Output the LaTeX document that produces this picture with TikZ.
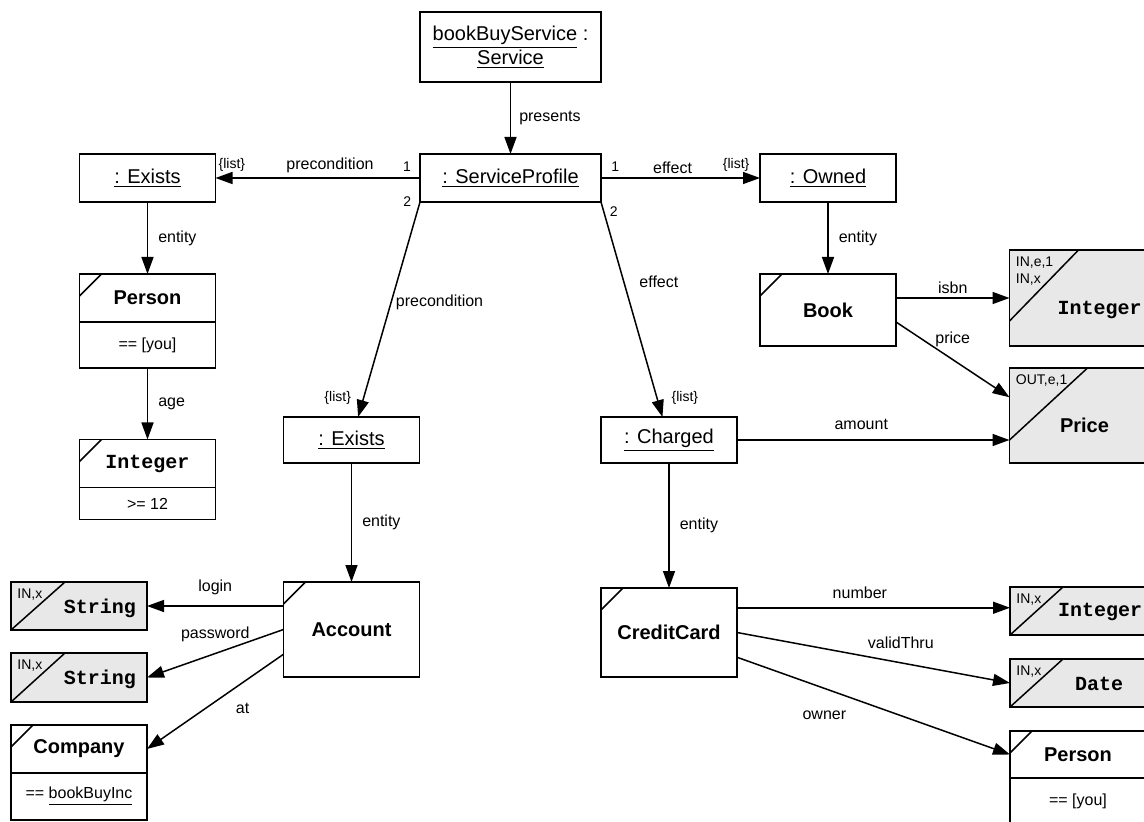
\documentclass[tikz,border=0pt]{standalone}
\usepackage{fontspec}
\setmainfont{Liberation Sans}
\setmonofont{Liberation Mono}
\usetikzlibrary{arrows.meta,positioning,calc}
\definecolor{typegray}{RGB}{232,232,232}

\tikzset{
  inst/.style={draw,line width=0.75pt,fill=white,minimum width=68pt,
    minimum height=24pt,inner sep=2pt,outer sep=0pt,font=\fontsize{10}{12}\selectfont},
  corner/.style={path picture={\draw[line width=0.75pt]
    ([yshift=-11pt]path picture bounding box.north west) --
    ([xshift=11pt]path picture bounding box.north west);}},
  cls/.style={inst,corner,font=\fontsize{10}{12}\selectfont\bfseries},
  constr/.style={inst,font=\fontsize{8}{10}\selectfont},
  tbox/.style 2 args={draw,line width=0.75pt,fill=typegray,minimum width=68pt,
    minimum height=24pt,outer sep=0pt,path picture={\draw[line width=0.75pt]
    ([yshift=-#1]path picture bounding box.north west) --
    ([xshift=#2]path picture bounding box.north west);}},
  tname/.style={font=\fontsize{10}{12}\selectfont\ttfamily\bfseries,inner sep=0pt},
  tag/.style={anchor=north west,inner xsep=3pt,inner ysep=3pt,align=left,
    font=\fontsize{7}{8.5}\selectfont},
  link/.style={line width=0.75pt,-{Triangle[length=8.5pt,width=6pt]}},
  lbl/.style={font=\fontsize{8}{10}\selectfont,inner sep=2pt},
  mult/.style={font=\fontsize{7}{8.5}\selectfont,inner sep=2pt},
}

\begin{document}
\begin{tikzpicture}[x=0.5pt,y=-0.5pt]
  \useasboundingbox (0,0) rectangle (1144,822);

  % service and its profile
  \node[inst,minimum width=90.5pt,minimum height=35pt,align=center] (service)
    at (510.5,47) {\underline{bookBuyService} :\\\underline{Service}};
  \node[inst,minimum width=90.5pt] (profile) at (510.5,178) {\underline{: ServiceProfile}};

  % precondition on the person
  \node[inst] (existsA) at (147.5,178) {\underline{: Exists}};
  \node[cls] (personA) at (147.5,298) {Person};
  \node[constr,minimum height=23pt,below=0pt of personA] (personAval) {== [you]};
  \node[cls,font=\fontsize{10}{12}\selectfont\ttfamily\bfseries] (intA) at (147.5,463.5) {Integer};
  \node[constr,minimum height=16pt,below=0pt of intA] (intAval) {>= 12};

  % precondition on the account, effect on the card
  \node[inst,minimum height=23pt] (existsB) at (351.5,440) {\underline{: Exists}};
  \node[inst,minimum height=23pt] (charged) at (669,440) {\underline{: Charged}};
  \node[cls,minimum height=47.5pt] (account) at (351.5,629.5) {Account};
  \node[cls,minimum height=44.5pt] (card) at (669,632.5) {CreditCard};

  % effect on the book
  \node[inst] (owned) at (828,178) {\underline{: Owned}};
  \node[cls,minimum height=36pt] (book) at (828,310) {Book};
  \node[tbox={35.5pt}{34.5pt},minimum height=48pt] (intB) at (1077.5,298) {};
  \node[tname] (intBname) at ($(intB)+(22,12)$) {Integer};
  \node[tag] (intBtag) at (intB.north west) {IN,e,1\\IN,x};
  \node[tbox={36pt}{39pt},minimum height=47.5pt] (price) at (1077.5,415.5) {};
  \node[tname,font=\fontsize{10}{12}\selectfont\bfseries] (priceName) at ($(price)+(7,10)$) {Price};
  \node[tag] (priceTag) at (price.north west) {OUT,e,1};

  % account parts
  \node[tbox={24pt}{27pt}] (strA) at (79,606) {};
  \node[tname] (strAname) at ($(strA)+(21,2)$) {String};
  \node[tag] (strAtag) at (strA.north west) {IN,x};
  \node[tbox={24.5pt}{27pt},minimum height=24.5pt] (strB) at (79,677.5) {};
  \node[tname] (strBname) at ($(strB)+(21,2)$) {String};
  \node[tag] (strBtag) at (strB.north west) {IN,x};
  \node[cls] (company) at (79,749) {Company};
  \node[constr,minimum height=23.5pt,below=0pt of company] (companyVal) {== \underline{bookBuyInc}};

  % card parts
  \node[tbox={24pt}{26.5pt}] (intC) at (1078,611) {};
  \node[tname] (intCname) at ($(intC)+(22,1)$) {Integer};
  \node[tag] (intCtag) at (intC.north west) {IN,x};
  \node[tbox={24pt}{26.5pt}] (date) at (1078,683) {};
  \node[tname] (dateName) at ($(date)+(21,1)$) {Date};
  \node[tag] (dateTag) at (date.north west) {IN,x};
  \node[cls,minimum height=23.5pt] (personB) at (1078,754.5) {Person};
  \node[constr,minimum height=23pt,below=0pt of personB] (personBval) {== [you]};

  % links
  \draw[link] (service) -- node[lbl,right=2pt] (lPresents) {presents} (profile);
  \draw[link] (profile) -- node[mult,above=1pt,pos=0.064] (mPreA) {1}
    node[lbl,above,pos=0.44] (lPreA) {precondition}
    node[mult,above=1pt,pos=0.92] (lListA) {\{list\}} (existsA);
  \draw[link] (profile) -- node[mult,above=1pt,pos=0.09] (mEffA) {1}
    node[lbl,above,pos=0.45] (lEffA) {effect}
    node[mult,above=1pt,pos=0.85] (lListC) {\{list\}} (owned);
  \draw[link] (profile.south west) -- node[mult,left=2pt,pos=0] (mPreB) {2}
    node[lbl,right,pos=0.465] (lPreB) {precondition}
    node[mult,left=4pt,pos=0.91] (lListB) {\{list\}} (existsB);
  \draw[link] (profile.south east) -- node[mult,anchor=north west,xshift=2pt,pos=0] (mEffB) {2}
    node[lbl,right=5.5pt,pos=0.37] (lEffB) {effect}
    node[mult,right=5pt,pos=0.91] (lListD) {\{list\}} (charged);

  \draw[link] (existsA) -- node[lbl,right=3pt] (lEntA) {entity} (personA);
  \draw[link] (personAval) -- node[lbl,right=3pt] (lAge) {age} (intA);
  \draw[link] (existsB) -- node[lbl,right=3pt] (lEntB) {entity} (account);
  \draw[link] (charged) -- node[lbl,right=3pt] (lEntC) {entity} (card);
  \draw[link] (owned) -- node[lbl,right=3pt] (lEntD) {entity} (book);

  \draw[link] (book.east |- intB.west) -- node[lbl,above] (lIsbn) {isbn} (intB.west);
  \draw[link] (book.-10) -- node[lbl,above=4pt] (lPrice) {price} (price.165);
  \draw[link] (charged.east) -- node[lbl,above=3pt,pos=0.456] (lAmount) {amount}
    (charged.east -| price.west);

  \draw[link] (account.west |- strA.east) -- node[lbl,above=3pt] (lLogin) {login} (strA.east);
  \draw[link] (account.west) -- node[lbl,above=3.5pt] (lPass) {password} (strB.east);
  \draw[link] (account.200) -- node[lbl,below=8pt,pos=0.3] (lAt) {at} (company.east);

  \draw[link] (card.20) -- node[lbl,above=2pt,pos=0.45] (lNumber) {number} (card.20 -| intC.west);
  \draw[link] (card.east) -- node[lbl,above=4.5pt,pos=0.6] (lValid) {validThru} (date.west);
  \draw[link] (card.-20) -- node[lbl,below=9pt,pos=0.32] (lOwner) {owner} (personB.west);
\end{tikzpicture}
\end{document}
